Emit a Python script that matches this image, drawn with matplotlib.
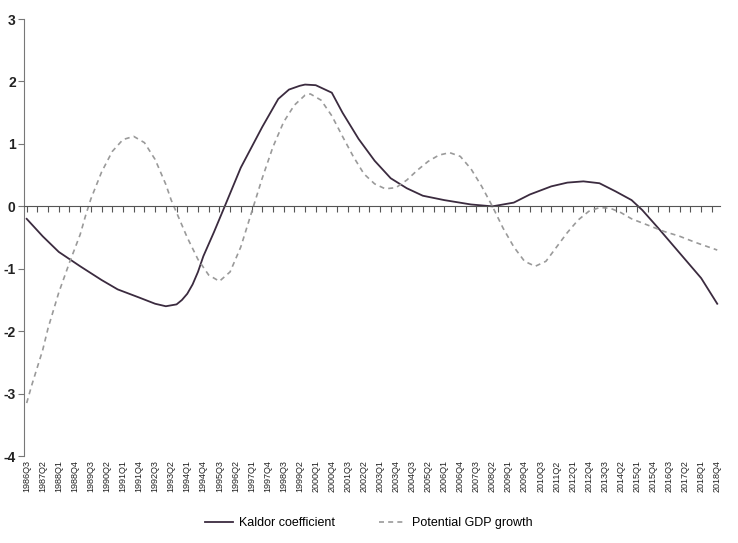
import matplotlib
matplotlib.use("Agg")
import matplotlib.pyplot as plt

plt.rcParams['font.family'] = ['Liberation Sans', 'DejaVu Sans']
plt.rcParams['axes.unicode_minus'] = False

# quarters counted from 1986Q3 (index 0) to 2018Q4 (index 129)
start_year, start_q = 1986, 3
n_quarters = 130

kaldor_q = [0, 3, 6, 10, 14, 17, 21, 24, 26, 28, 29, 30, 31, 32, 33, 35, 37, 40,
            44, 47, 49, 51, 52, 54, 57, 59, 62, 65, 68, 71, 74, 78, 83, 87, 91,
            94, 98, 101, 104, 107, 110, 113, 115, 118, 122, 126, 129]
kaldor = [-0.2, -0.48, -0.73, -0.96, -1.18, -1.33, -1.46, -1.56, -1.6, -1.57,
          -1.5, -1.4, -1.25, -1.05, -0.8, -0.41, 0.0, 0.62, 1.27, 1.72, 1.87,
          1.93, 1.95, 1.94, 1.82, 1.5, 1.08, 0.73, 0.45, 0.29, 0.17, 0.1, 0.03,
          0.0, 0.06, 0.19, 0.32, 0.38, 0.4, 0.37, 0.24, 0.1, -0.06, -0.35,
          -0.75, -1.15, -1.56]

gdp_q = [0, 1, 3, 4, 6, 8, 10, 11, 12, 14, 16, 18, 20, 22, 24, 26, 27, 28, 30,
         32, 34, 36, 38, 40, 42, 44, 46, 48, 50, 52, 53, 55, 57, 59, 61, 63, 65,
         67, 69, 71, 73, 75, 77, 79, 81, 83, 85, 87, 89, 91, 93, 95, 97, 99,
         101, 103, 105, 107, 109, 111, 113, 116, 119, 122, 125, 129]
gdp = [-3.15, -2.85, -2.3, -1.95, -1.38, -0.9, -0.45, -0.15, 0.12, 0.55, 0.88,
       1.07, 1.12, 1.02, 0.75, 0.35, 0.1, -0.1, -0.5, -0.85, -1.1, -1.2, -1.05,
       -0.65, -0.1, 0.45, 0.95, 1.35, 1.62, 1.78, 1.8, 1.7, 1.45, 1.12, 0.8,
       0.52, 0.36, 0.28, 0.3, 0.42, 0.58, 0.72, 0.82, 0.86, 0.8, 0.6, 0.32,
       0.0, -0.35, -0.65, -0.88, -0.96, -0.88, -0.65, -0.42, -0.22, -0.08,
       -0.02, -0.03, -0.1, -0.2, -0.3, -0.4, -0.48, -0.58, -0.7]


def quarter_label(i):
    k = (start_year * 4 + start_q - 1) + i
    return f"{k // 4}Q{k % 4 + 1}"


label_pos = list(range(0, n_quarters, 3))
labels = [quarter_label(i) for i in label_pos]

fig = plt.figure(figsize=(7.38, 5.43), dpi=100)
ax = fig.add_axes([0.0325, 0.160, 0.943, 0.805])

ax.plot(kaldor_q, kaldor, color='#3b2b3f', lw=1.3, label='Kaldor coefficient')
ax.plot(gdp_q, gdp, color='#9a9a9a', lw=1.2, ls=(0, (3, 2.5)),
        label='Potential GDP growth')

ax.set_xlim(-0.5, n_quarters - 0.5)
ax.set_ylim(-4, 3)
ax.set_yticks(range(-4, 4))
ax.tick_params(axis='y', direction='out', length=4, width=0.8, color='#777777',
               labelsize=10, pad=2, labelcolor='#222222')
for t in ax.get_yticklabels():
    t.set_fontweight('bold')

for s in ['top', 'right']:
    ax.spines[s].set_visible(False)
ax.spines['left'].set_color('#777777')
ax.spines['bottom'].set_position(('data', 0))
ax.spines['bottom'].set_color('#555555')
ax.set_xticks(range(0, n_quarters, 2))
ax.tick_params(axis='x', direction='out', length=4, width=0.8, color='#555555',
               labelbottom=False)

sec = ax.secondary_xaxis(0)
sec.set_xticks(label_pos, labels, rotation=90)
sec.tick_params(length=0, labelsize=6.5, pad=3, labelcolor='#222222')
sec.spines['bottom'].set_visible(False)

fig.legend(loc='center', bbox_to_anchor=(0.5, 0.036), ncol=2, frameon=False,
           fontsize=9, handlelength=2.2, handletextpad=0.5, columnspacing=3.5)

fig.savefig('out.png', dpi=100)
